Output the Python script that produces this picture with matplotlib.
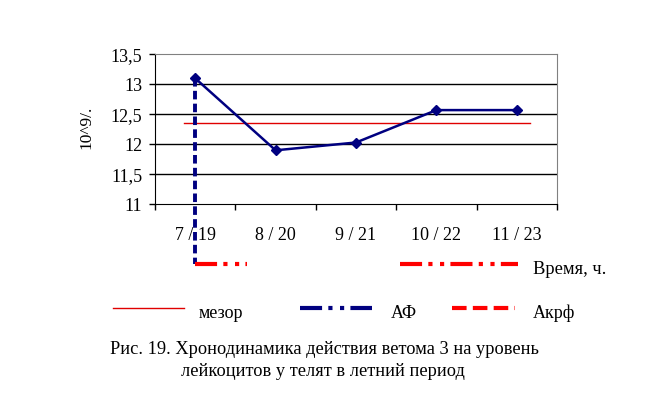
import matplotlib
matplotlib.use("Agg")
import matplotlib.pyplot as plt
from matplotlib.lines import Line2D

categories = ["7 / 19", "8 / 20", "9 / 21", "10 / 22", "11 / 23"]
values = [13.1, 11.9, 12.03, 12.57, 12.57]
mesor_value = 12.355
mesor_x = [-0.14, 4.17]
akrf_x = 0
akrf_y = [13.1, 10.0]
af_y = 10.0
af_segments = [[0, 0.65], [2.55, 4.02]]
yticks = [11, 11.5, 12, 12.5, 13, 13.5]
ytick_labels = ["11", "11,5", "12", "12,5", "13", "13,5"]

plt.rcParams['font.family'] = ['Liberation Serif', 'DejaVu Serif']

W, H = 648, 397
fig = plt.figure(figsize=(W / 100, H / 100), dpi=100)
ax = fig.add_axes([155 / W, 1 - 204.3 / H, (557 - 155) / W, (204.3 - 54.3) / H])

navy = "#000080"
red = "#ff0000"
dashdotdot = (0, (5.3, 1.5, 1, 1.8, 1, 1.5))

# grid
for y in yticks[1:-1]:
    ax.axhline(y, color="black", lw=1, zorder=1)

x = list(range(len(categories)))
ax.plot(mesor_x, [mesor_value, mesor_value], color="#e00000", lw=1, zorder=2)
ax.plot(x, values, color=navy, lw=1.8, marker="D", ms=5, zorder=4)

# Akrf vertical dashed line
ax.plot([akrf_x, akrf_x], akrf_y, color=navy, lw=2.8, ls=(0, (2.2, 1.1)),
        clip_on=False, zorder=3)
# AF red dash-dot-dot segments
for seg in af_segments:
    ax.plot(seg, [af_y, af_y], color=red, lw=3, ls=dashdotdot,
            clip_on=False, zorder=3, solid_capstyle="butt", dash_capstyle="butt")

ax.set_xlim(-0.5, 4.5)
ax.set_ylim(11, 13.5)
ax.set_yticks(yticks)
ax.set_yticklabels(ytick_labels, fontsize=13)
ax.tick_params(axis="y", direction="out", length=4, width=1, pad=5)

ax.set_xticks([-0.5, 0.5, 1.5, 2.5, 3.5, 4.5])
ax.set_xticklabels([])
ax.set_xticks(x, minor=True)
ax.set_xticklabels(categories, minor=True, fontsize=13)
ax.tick_params(axis="x", which="major", direction="out", length=4, width=1)
ax.tick_params(axis="x", which="minor", length=0, pad=16)

ax.spines["left"].set_color("black")
ax.spines["bottom"].set_color("black")
ax.spines["top"].set_color("#808080")
ax.spines["right"].set_color("#808080")

fig.text(86 / W, 1 - 127 / H, "10^9/.", rotation=90, ha="center", va="center", fontsize=12.5)
fig.text(533 / W, 1 - 270 / H, "Время, ч.", ha="left", va="center", fontsize=13.3)

# legend
ly = 1 - 308 / H
ty = 1 - 313 / H
fig.lines.append(Line2D([113 / W, 184 / W], [ly, ly], color="#e00000", lw=1, transform=fig.transFigure))
fig.text(199 / W, ty, "мезор", ha="left", va="center", fontsize=13)
fig.lines.append(Line2D([300 / W, 372 / W], [ly, ly], color=navy, lw=3,
                        ls=dashdotdot, dash_capstyle="butt", transform=fig.transFigure))
fig.text(391 / W, ty, "АФ", ha="left", va="center", fontsize=13)
fig.lines.append(Line2D([452 / W, 515 / W], [ly, ly], color=red, lw=3,
                        ls=(0, (3.5, 1.5)), dash_capstyle="butt", transform=fig.transFigure))
fig.text(533 / W, ty, "Акрф", ha="left", va="center", fontsize=13)

fig.text(324 / W, 1 - 350 / H, "Рис. 19. Хронодинамика действия ветома 3 на уровень",
         ha="center", va="center", fontsize=13.2)
fig.text(323 / W, 1 - 372 / H, "лейкоцитов у телят в летний период",
         ha="center", va="center", fontsize=13.2)

fig.savefig("out.png", dpi=100)
